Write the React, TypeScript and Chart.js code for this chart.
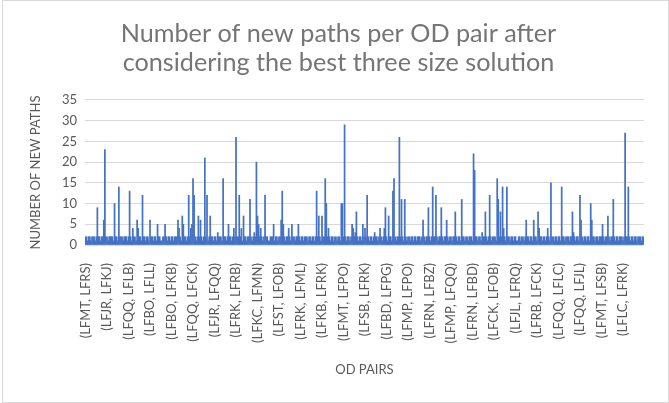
import React, { useEffect, useRef } from "react";
import { Chart, registerables } from "chart.js";

Chart.register(...registerables);

const TITLE_LINES = [
  "Number of new paths per OD pair after",
  "considering the best three size solution",
];
const X_TITLE = "OD PAIRS";
const Y_TITLE = "NUMBER OF NEW PATHS";

// Labels shown on the category axis (one every LABEL_STEP OD pairs)
const tickLabels = [
  "(LFMT, LFRS)", "(LFJR, LFKJ)", "(LFQQ, LFLB)", "(LFBO, LFLL)", "(LFBO, LFKB)",
  "(LFQQ, LFCK)", "(LFJR, LFQQ)", "(LFRK, LFRB)", "(LFKC, LFMN)", "(LFST, LFOB)",
  "(LFRK, LFML)", "(LFKB, LFRK)", "(LFMT, LFPO)", "(LFSB, LFRK)", "(LFBD, LFPG)",
  "(LFMP, LFPO)", "(LFRN, LFBZ)", "(LFMP, LFQQ)", "(LFRN, LFBD)", "(LFCK, LFOB)",
  "(LFJL, LFRQ)", "(LFRB, LFCK)", "(LFQQ, LFLC)", "(LFQQ, LFJL)", "(LFMT, LFSB)",
  "(LFLC, LFRK)",
];
const LABEL_STEP = 20;

// Number of new paths per OD pair (rows of 20 OD pairs)
const newPaths = [
  2,2,1,2,2,1,2,2,2,1,2,9,2,2,1,2,2,6,23,2,
  2,1,2,2,2,2,1,10,2,2,1,14,2,2,2,1,2,2,2,1,
  2,13,2,1,4,2,2,1,6,4,2,2,1,12,2,2,1,2,2,1,
  6,2,2,1,2,2,1,5,2,2,1,1,2,2,5,2,1,2,2,1,
  2,2,1,2,2,2,6,4,2,1,7,5,2,2,1,2,12,2,4,5,
  16,12,2,1,2,7,2,6,2,1,2,21,2,12,1,2,7,2,2,1,
  2,2,1,3,2,2,2,1,16,2,2,1,2,5,2,2,1,2,4,2,
  26,2,2,12,2,4,1,7,2,2,1,2,2,11,2,1,2,3,2,20,
  7,5,2,4,2,1,2,12,2,2,1,1,2,2,2,5,1,2,2,1,
  2,2,6,13,5,2,1,2,2,4,2,1,5,2,2,1,2,2,5,2,
  1,2,2,1,2,2,2,1,2,2,1,2,2,1,2,13,2,7,2,1,
  7,2,2,16,10,2,4,2,1,2,2,1,2,2,1,2,2,1,10,10,
  2,29,2,1,2,2,1,2,5,4,2,3,8,2,1,2,2,1,5,2,
  4,2,12,2,1,2,2,1,2,3,2,2,1,2,4,2,1,2,4,9,
  2,1,7,2,2,1,13,16,2,1,2,2,26,2,11,2,1,11,2,1,
  2,2,1,2,2,1,2,2,1,2,2,2,1,2,6,2,1,2,2,9,
  2,1,2,14,2,2,12,2,1,2,2,9,2,1,2,2,6,2,1,2,
  2,1,2,2,8,2,1,2,2,1,11,2,2,1,2,2,1,2,2,2,
  1,22,18,2,2,1,2,2,1,3,2,2,8,2,1,2,12,2,1,2,
  2,2,1,16,11,2,8,2,14,4,2,1,14,2,2,1,2,2,1,2,
  2,1,1,2,2,1,2,2,1,2,6,2,2,1,2,2,1,6,2,2,
  1,8,4,2,2,1,2,2,1,2,4,2,1,15,2,2,1,2,2,1,
  2,2,1,14,2,2,1,2,2,2,1,2,2,8,3,2,1,2,2,1,
  12,6,2,1,2,2,1,2,2,1,10,6,2,2,1,2,2,1,2,2,
  2,5,2,1,2,2,7,2,1,2,2,11,2,1,2,2,1,2,2,2,
  1,2,27,2,2,14,2,1,2,2,1,2,2,1,2,2,2,1,2,2,
];

const Y_MIN = 0;
const Y_MAX = 35;
const Y_STEP = 5;

const categories = newPaths.map((_, i) =>
  i % LABEL_STEP === 0 ? tickLabels[i / LABEL_STEP] : ""
);

const W = 669;
const H = 403;
const TEXT = "#595959";
const TITLE_COLOR = "#757575";
const FONT = "Lato, 'Open Sans', sans-serif";

const frame = {
  id: "frame",
  beforeDraw(chart: any) {
    const ctx = chart.ctx;
    ctx.save();
    ctx.fillStyle = "#ffffff";
    ctx.fillRect(0, 0, chart.width, chart.height);
    ctx.restore();
  },
  afterDraw(chart: any) {
    const ctx = chart.ctx;
    ctx.save();
    ctx.strokeStyle = "#d9d9d9";
    ctx.lineWidth = 1;
    ctx.strokeRect(2.5, 0.5, chart.width - 3, chart.height - 1);
    ctx.restore();
  },
};

export default function App() {
  const ref = useRef<HTMLCanvasElement>(null);
  useEffect(() => {
    if (!ref.current) return;
    const chart = new Chart(ref.current, {
      type: "bar",
      data: {
        labels: categories,
        datasets: [
          {
            data: newPaths,
            backgroundColor: "#4472C4",
            borderWidth: 0,
            barPercentage: 1,
            categoryPercentage: 1,
          },
        ],
      },
      options: {
        responsive: false,
        animation: false,
        layout: { padding: { left: 24, right: 16, top: 0, bottom: 25 } },
        plugins: {
          legend: { display: false },
          tooltip: { enabled: false },
          title: {
            display: true,
            text: TITLE_LINES,
            color: TITLE_COLOR,
            font: { family: FONT, size: 25.2, weight: "normal", lineHeight: 1.15 },
            padding: { top: 19, bottom: 23 },
          },
        },
        scales: {
          x: {
            grid: { display: false },
            border: { display: false },
            ticks: {
              autoSkip: false,
              minRotation: 90,
              maxRotation: 90,
              padding: 10,
              color: TEXT,
              font: { family: FONT, size: 13 },
              callback: (_v: any, i: number) => categories[i],
            },
            title: {
              display: true,
              text: X_TITLE,
              color: TEXT,
              font: { family: FONT, size: 13 },
              padding: { top: 0, bottom: 0 },
            },
            afterFit: (s: any) => {
              s.height = 133;
            },
          },
          y: {
            min: Y_MIN,
            max: Y_MAX,
            ticks: {
              stepSize: Y_STEP,
              color: TEXT,
              padding: 8,
              font: { family: FONT, size: 13 },
            },
            grid: { color: "#d9d9d9", drawTicks: false },
            border: { display: false },
            title: {
              display: true,
              text: Y_TITLE,
              color: TEXT,
              font: { family: FONT, size: 13 },
              padding: { top: 4, bottom: 0 },
            },
            afterFit: (s: any) => {
              s.width = 61;
            },
          },
        },
      },
      plugins: [frame],
    });
    return () => chart.destroy();
  }, []);
  return (
    <div style={{ position: "fixed", left: 0, top: 0, width: W, height: H, background: "#fff" }}>
      <canvas ref={ref} width={W} height={H} style={{ display: "block" }} />
    </div>
  );
}
